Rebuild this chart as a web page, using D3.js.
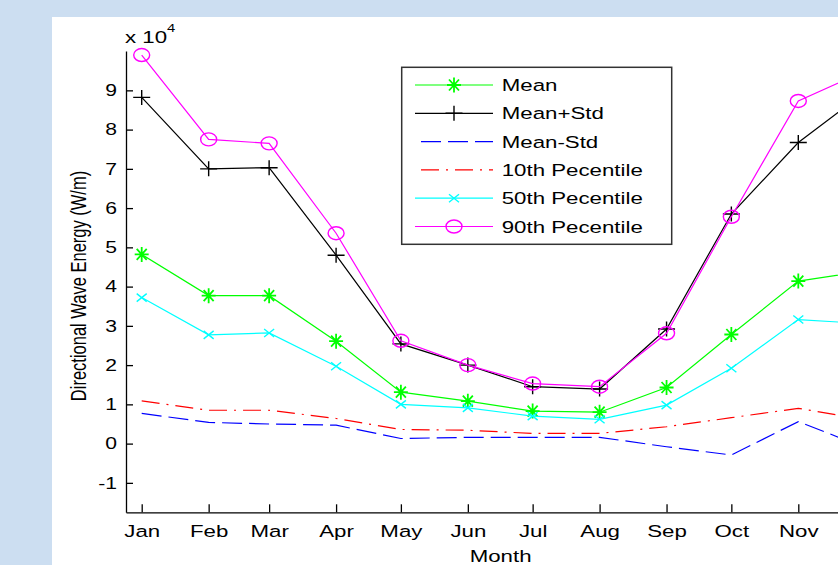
<!DOCTYPE html>
<html>
<head>
<meta charset="utf-8">
<script src="https://cdn.jsdelivr.net/npm/d3@7"></script>
<style>
  body { margin: 0; background: #ccdef1; }
  svg { display: block; font-family: "Liberation Sans", Arial, sans-serif; }
</style>
</head>
<body>
<div id="plot1"></div>
<script>
// Data (values in units of 10^4 W/m)
var months = ["Jan", "Feb", "Mar", "Apr", "May", "Jun", "Jul", "Aug", "Sep", "Oct", "Nov", "Dec"];
var meanVals = [4.82, 3.77, 3.77, 2.61, 1.31, 1.08, 0.83, 0.80, 1.43, 2.78, 4.14, 4.39];
var meanPlusStd = [8.82, 7.00, 7.03, 4.80, 2.54, 2.00, 1.45, 1.39, 2.92, 5.85, 7.67, 8.92];
var meanMinusStd = [0.77, 0.54, 0.50, 0.47, 0.13, 0.16, 0.16, 0.16, -0.08, -0.29, 0.56, -0.08];
var p10 = [1.09, 0.85, 0.85, 0.64, 0.36, 0.34, 0.26, 0.26, 0.43, 0.66, 0.90, 0.62];
var p50 = [3.72, 2.77, 2.82, 1.97, 1.00, 0.91, 0.70, 0.62, 0.98, 1.92, 3.16, 3.06];
var p90 = [9.90, 7.75, 7.65, 5.36, 2.62, 2.00, 1.53, 1.45, 2.81, 5.78, 8.73, 9.47];
var yTicks = [-1, 0, 1, 2, 3, 4, 5, 6, 7, 8, 9];

// Series list (name, values, colour, dash, marker)
var seriesList = [
  { name: "Mean", values: meanVals, color: "#00ff00", dash: null, marker: "star" },
  { name: "Mean+Std", values: meanPlusStd, color: "#000000", dash: null, marker: "plus" },
  { name: "Mean-Std", values: meanMinusStd, color: "#0000ff", dash: "20,7", marker: null },
  { name: "10th Pecentile", values: p10, color: "#ff0000", dash: "18,7,2,7", marker: null },
  { name: "50th Pecentile", values: p50, color: "#00ffff", dash: null, marker: "cross" },
  { name: "90th Pecentile", values: p90, color: "#ff00ff", dash: null, marker: "circle" }
];

var svgWidth = 838;
var svgHeight = 565;
var fontSize = 16.5;
var stretch = 1.35; // the picture is widened horizontally

var svg = d3.select("#plot1")
  .append("svg")
  .attr("width", svgWidth)
  .attr("height", svgHeight);

// white figure panel
svg.append("rect")
  .attr("x", 52)
  .attr("y", 17)
  .attr("width", svgWidth - 52)
  .attr("height", svgHeight - 17)
  .attr("fill", "#ffffff");

// x scale: mid-month dates (day based spacing)
var dates = months.map((m, i) => new Date(Date.UTC(2001, i, 15)));
var x = d3.scaleUtc()
  .domain([dates[0], dates[10]])
  .range([141.7, 798.3]);
var xStart = x.invert(126);
var xEnd = x.invert(900);
x.domain([xStart, xEnd]).range([126, 900]);

var y = d3.scaleLinear()
  .domain([-1.75, 10])
  .range([512.3, 51.1]);

// Axes with inward ticks (Dec tick falls outside the picture)
var bottomAxis = d3.axisBottom(x)
  .tickValues(dates.slice(0, 11))
  .tickFormat(d3.utcFormat("%b"))
  .tickSizeInner(-8)
  .tickSizeOuter(0)
  .tickPadding(12.5);

var leftAxis = d3.axisLeft(y)
  .tickValues(yTicks)
  .tickFormat(d => String(d))
  .tickSizeInner(-7)
  .tickSizeOuter(0)
  .tickPadding(9);

var xAxisG = svg.append("g")
  .attr("transform", "translate(0," + y.range()[0] + ")")
  .call(bottomAxis);

var yAxisG = svg.append("g")
  .attr("transform", "translate(" + x.range()[0] + ",0)")
  .call(leftAxis);

[xAxisG, yAxisG].forEach(function (g) {
  g.attr("font-size", fontSize)
    .attr("font-family", "Liberation Sans, Arial, sans-serif");
  g.selectAll("path, line")
    .attr("stroke", "#000")
    .attr("stroke-width", 1.3);
  g.selectAll("text").attr("fill", "#000");
});

xAxisG.selectAll(".tick text")
  .attr("transform", "scale(" + stretch + ",1)");

yAxisG.selectAll(".tick text")
  .attr("x", -9 / 1.28)
  .attr("transform", "scale(1.28,1)");

// exponent label "x 10^4"
var expo = svg.append("text")
  .attr("transform", "translate(125,43) scale(" + stretch + ",1)")
  .attr("font-size", fontSize)
  .attr("fill", "#000");
expo.append("tspan").text("x 10");
expo.append("tspan")
  .attr("font-size", 11)
  .attr("dy", -11)
  .text("4");

// axis titles
svg.append("text")
  .attr("transform", "translate(" + (x(dates[6]) - 32) + ",562) scale(" + stretch + ",1)")
  .attr("text-anchor", "middle")
  .attr("font-size", fontSize)
  .attr("fill", "#000")
  .text("Month");

svg.append("text")
  .attr("transform", "translate(86,286) rotate(-90) scale(1," + stretch + ")")
  .attr("text-anchor", "middle")
  .attr("font-size", fontSize)
  .attr("fill", "#000")
  .text("Directional Wave Energy (W/m)");

// marker shapes (wider than tall, like the picture)
function markerPath(type) {
  if (type === "star") return "M-7,0H7M0,-7.5V7.5M-5,-5.5L5,5.5M-5,5.5L5,-5.5";
  if (type === "plus") return "M-8.5,0H8.5M0,-7.5V7.5";
  if (type === "cross") return "M-5,-4L5,4M-5,4L5,-4";
  return null;
}

function drawMarker(g, type, color, px, py) {
  if (type === "circle") {
    g.append("ellipse")
      .attr("cx", px)
      .attr("cy", py)
      .attr("rx", 8)
      .attr("ry", 6.5)
      .attr("fill", "none")
      .attr("stroke", color)
      .attr("stroke-width", 1.4);
  } else {
    g.append("path")
      .attr("transform", "translate(" + px + "," + py + ")")
      .attr("d", markerPath(type))
      .attr("fill", "none")
      .attr("stroke", color)
      .attr("stroke-width", type === "star" ? 1.8 : 1.4);
  }
}

var line = d3.line()
  .x((d, i) => x(dates[i]))
  .y(d => y(d));

var plotG = svg.append("g");

seriesList.forEach(function (s) {
  var g = plotG.append("g");
  g.append("path")
    .datum(s.values)
    .attr("d", line)
    .attr("fill", "none")
    .attr("stroke", s.color)
    .attr("stroke-width", 1.2)
    .attr("stroke-dasharray", s.dash);
  if (s.marker) {
    s.values.forEach(function (v, i) {
      drawMarker(g, s.marker, s.color, x(dates[i]), y(v));
    });
  }
});

// Legend
var legendG = svg.append("g");
legendG.append("rect")
  .attr("x", 401.7)
  .attr("y", 67.3)
  .attr("width", 270)
  .attr("height", 177)
  .attr("fill", "#fff")
  .attr("stroke", "#333")
  .attr("stroke-width", 1.5);

seriesList.forEach(function (s, i) {
  var ly = 85 + i * 28.3;
  legendG.append("line")
    .attr("x1", s.dash ? 421 : 415)
    .attr("x2", 493)
    .attr("y1", ly)
    .attr("y2", ly)
    .attr("stroke", s.color)
    .attr("stroke-width", 1.2)
    .attr("stroke-dasharray", s.dash);
  if (s.marker) drawMarker(legendG, s.marker, s.color, 454, ly);
  legendG.append("text")
    .attr("transform", "translate(501.7," + (ly + 6) + ") scale(" + stretch + ",1)")
    .attr("font-size", fontSize)
    .attr("fill", "#000")
    .text(s.name);
});
</script>
</body>
</html>
